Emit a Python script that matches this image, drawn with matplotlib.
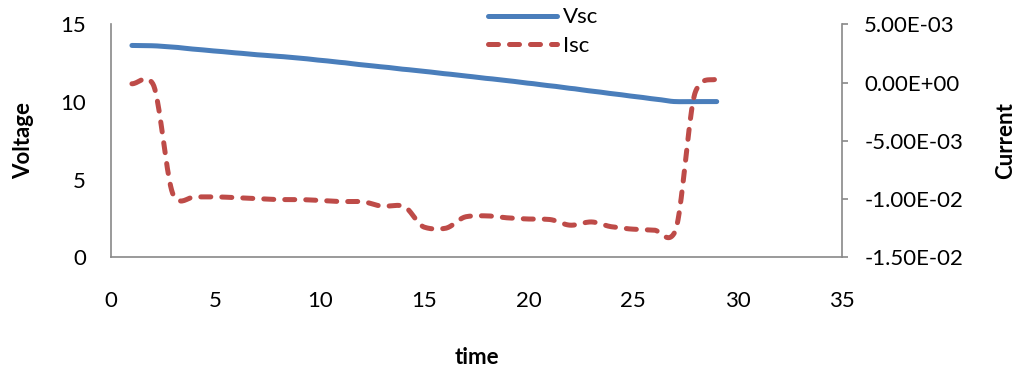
import numpy as np
from matplotlib import pyplot as plt

# supercapacitor voltage and current over time
time = [1, 2, 3, 4, 5, 6, 7, 8, 9, 10, 11, 12, 13, 14, 15,
        16, 17, 18, 19, 20, 21, 22, 23, 24, 25, 26, 27, 28, 29]
vsc = [13.64, 13.62, 13.53, 13.40, 13.28, 13.16, 13.04, 12.94, 12.83, 12.69,
       12.55, 12.40, 12.26, 12.11, 11.97, 11.82, 11.67, 11.52, 11.37, 11.21,
       11.05, 10.88, 10.71, 10.54, 10.37, 10.20, 10.03, 10.03, 10.03]
isc = [-0.0001, -0.0001, -0.0097, -0.0098, -0.0098, -0.00986, -0.00995, -0.01003,
       -0.01003, -0.0101, -0.0102, -0.0102, -0.0106, -0.0106, -0.0124, -0.0125,
       -0.0115, -0.01143, -0.0116, -0.0117, -0.01174, -0.01223, -0.01195, -0.01237,
       -0.01257, -0.01265, -0.0128, -0.0007, 0.0003]

x_ticks = [0, 5, 10, 15, 20, 25, 30, 35]
v_ticks = [0, 5, 10, 15]
i_ticks = [-0.015, -0.01, -0.005, 0.0, 0.005]
i_labels = ['-1.50E-02', '-1.00E-02', '-5.00E-03', '0.00E+00', '5.00E-03']

BLUE = '#4a7ebb'
RED = '#be4b48'
GREY = '#898989'


def smooth(x, y, n=20, tension=0.6):
    """Cardinal spline through the points, like a spreadsheet smoothed line"""
    x = np.asarray(x, float)
    y = np.asarray(y, float)
    m = np.empty_like(y)
    m[1:-1] = (y[2:] - y[:-2]) / 2
    m[0] = y[1] - y[0]
    m[-1] = y[-1] - y[-2]
    m *= tension
    xs, ys = [], []
    s = np.linspace(0, 1, n, endpoint=False)
    h00 = 2 * s**3 - 3 * s**2 + 1
    h10 = s**3 - 2 * s**2 + s
    h01 = -2 * s**3 + 3 * s**2
    h11 = s**3 - s**2
    for i in range(len(x) - 1):
        xs.append(x[i] + s * (x[i + 1] - x[i]))
        ys.append(h00 * y[i] + h10 * m[i] + h01 * y[i + 1] + h11 * m[i + 1])
    xs.append([x[-1]])
    ys.append([y[-1]])
    return np.concatenate(xs), np.concatenate(ys)


plt.rcParams['font.family'] = ['Lato', 'DejaVu Sans']
plt.rcParams['font.size'] = 16

fig = plt.figure(figsize=(10.32, 3.74), dpi=100)
ax = fig.add_axes([0.1076, 0.3115, 0.7083, 0.6235])
ax2 = ax.twinx()

tx, vy = smooth(time, vsc)
line_v, = ax.plot(tx, vy, color=BLUE, lw=3.6, solid_capstyle='round', label='Vsc')
tx, iy = smooth(time, isc)
line_i, = ax2.plot(tx, iy, color=RED, lw=3.6, dash_capstyle='round', label='Isc')
line_i.set_dashes((2, 2.2))

ax.set_xlim(0, 35)
ax.set_ylim(0, 15)
ax2.set_ylim(-0.015, 0.005)
ax.set_xticks(x_ticks)
ax.set_yticks(v_ticks)
ax2.set_yticks(i_ticks)
ax2.set_yticklabels(i_labels)

for a in (ax, ax2):
    a.spines['top'].set_visible(False)
    for side in ('left', 'right', 'bottom'):
        a.spines[side].set_color(GREY)
        a.spines[side].set_linewidth(1.2)
ax.spines['right'].set_visible(False)
ax2.spines['left'].set_visible(False)
ax2.spines['bottom'].set_visible(False)

ax.tick_params(axis='x', length=0, pad=24)
ax.tick_params(axis='y', length=0, pad=18)
ax2.tick_params(axis='y', length=4.5, width=1.2, color=GREY, pad=11.5)

ax.set_xlabel('time', fontweight='bold')
ax.xaxis.set_label_coords(0.5, -0.385)
ax.set_ylabel('Voltage', fontweight='bold')
ax.yaxis.set_label_coords(-0.105, 0.5)
ax2.set_ylabel('Current', fontweight='bold')
ax2.yaxis.set_label_coords(1.21, 0.5)

fig.legend(handles=[line_v, line_i], loc='upper left', bbox_to_anchor=(0.473, 0.98),
           frameon=False, handlelength=3.1, handletextpad=0.25, labelspacing=0.38,
           borderpad=0.0, borderaxespad=0.0)

fig.savefig('out.png', dpi=100)
